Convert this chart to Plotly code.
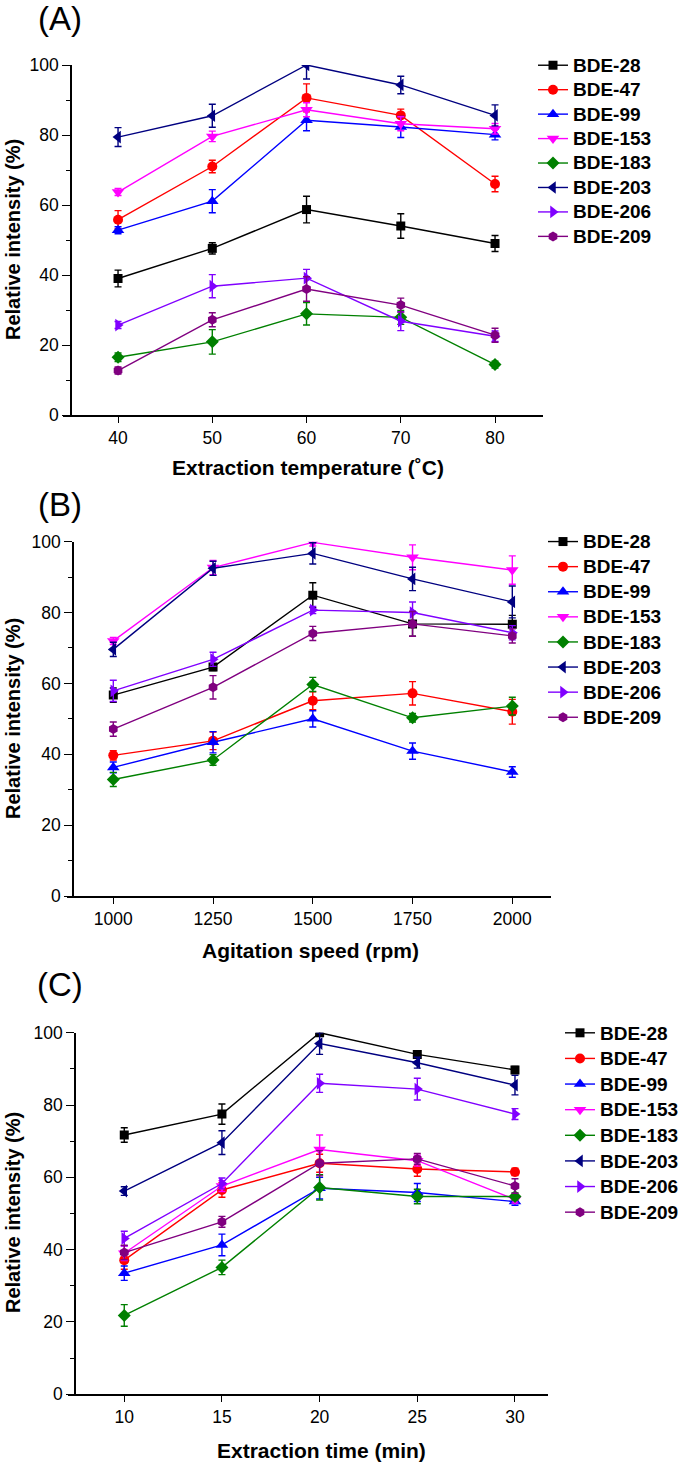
import plotly.graph_objects as go

W, H = 685, 1462

congeners = ["BDE-28", "BDE-47", "BDE-99", "BDE-153", "BDE-183", "BDE-203", "BDE-206", "BDE-209"]
colors = ["#000000", "#FF0000", "#0000FF", "#FF00FF", "#008000", "#000080", "#8000FF", "#800080"]
symbols = ["square", "circle", "triangle-up", "triangle-down", "diamond",
           "triangle-left", "triangle-right", "hexagon"]
marker_sizes = [9, 10, 11, 11, 10, 11, 11, 10]

# Panel A: extraction temperature
temps = [40, 50, 60, 70, 80]
a_means = [
    [39.0, 47.6, 58.7, 54.0, 49.0],
    [55.8, 71.0, 90.6, 85.6, 66.0],
    [52.8, 61.1, 84.2, 82.3, 80.1],
    [63.7, 79.6, 87.2, 83.2, 81.8],
    [16.5, 20.9, 28.9, 27.9, 14.4],
    [79.4, 85.5, 100.0, 94.3, 85.6],
    [25.7, 36.8, 39.1, 26.8, 22.5],
    [12.7, 27.2, 36.0, 31.4, 22.8],
]
a_errs = [
    [2.4, 1.6, 3.8, 3.5, 2.3],
    [2.6, 1.8, 4.0, 1.8, 2.2],
    [1.0, 3.3, 3.0, 3.0, 1.5],
    [1.0, 1.5, 2.0, 2.0, 1.5],
    [1.2, 3.5, 3.2, 2.0, 1.0],
    [2.7, 3.3, 4.0, 2.5, 3.0],
    [1.0, 3.3, 2.5, 2.7, 1.5],
    [1.0, 2.0, 3.5, 2.0, 2.0],
]

# Panel B: agitation speed
speeds = [1000, 1250, 1500, 1750, 2000]
b_means = [
    [56.7, 64.6, 84.9, 76.8, 76.7],
    [39.7, 43.8, 55.1, 57.2, 52.0],
    [36.3, 43.4, 50.0, 40.9, 35.0],
    [72.0, 92.7, 99.8, 95.6, 92.0],
    [32.9, 38.4, 59.7, 50.3, 53.6],
    [69.6, 92.5, 96.7, 89.5, 83.0],
    [57.9, 66.8, 80.7, 80.0, 74.3],
    [47.1, 58.9, 74.1, 76.8, 73.4],
]
b_errs = [
    [2.0, 1.0, 3.5, 3.5, 2.5],
    [1.3, 2.5, 2.5, 3.3, 3.5],
    [1.5, 3.0, 2.3, 2.3, 1.5],
    [1.0, 2.0, 1.0, 3.5, 4.0],
    [2.0, 1.5, 2.0, 1.2, 2.5],
    [2.0, 2.0, 3.0, 3.3, 4.5],
    [3.0, 2.0, 1.0, 3.0, 2.0],
    [2.0, 3.3, 2.0, 3.5, 2.0],
]

# Panel C: extraction time
times = [10, 15, 20, 25, 30]
c_means = [
    [71.7, 77.5, 100.0, 94.0, 89.7],
    [37.1, 56.5, 63.9, 62.3, 61.5],
    [33.5, 41.3, 57.0, 55.8, 53.3],
    [39.0, 57.6, 67.7, 64.6, 53.9],
    [21.8, 35.1, 57.2, 54.7, 54.7],
    [56.2, 69.6, 97.0, 91.7, 85.5],
    [43.1, 58.3, 86.0, 84.4, 77.5],
    [39.2, 47.7, 63.9, 65.1, 57.6],
]
c_errs = [
    [2.0, 2.8, 1.0, 1.0, 1.0],
    [2.5, 2.0, 2.5, 2.0, 1.0],
    [2.0, 3.0, 3.0, 2.5, 1.0],
    [2.0, 1.5, 4.0, 1.5, 1.0],
    [3.0, 2.0, 3.5, 2.0, 1.0],
    [1.2, 3.3, 3.0, 1.5, 2.7],
    [2.0, 1.5, 2.5, 3.0, 1.5],
    [2.0, 1.5, 3.5, 1.5, 2.0],
]

y_ticks = [0, 20, 40, 60, 80, 100]

FONT = "Liberation Sans, Arial, sans-serif"

def px_x(p):
    return p / W

def px_y(p):
    return 1 - p / H

# layout geometry (pixels)
panels = [
    dict(x=temps, means=a_means, errs=a_errs, xrange=[34.16, 85.09], xdom=(63, 543), ydom=(65, 415),
         yaxpos=71, xtitle="Extraction temperature (˚C)", xtitle_pos=(308, 468), ytitle_pos=(13, 240),
         label="(A)", label_pos=(60, 19), legend_pos=(533, 48), legend_size=16.5),
    dict(x=speeds, means=b_means, errs=b_errs, xrange=[884, 2097], xdom=(67, 551), ydom=(541.7, 896),
         yaxpos=73, xtitle="Agitation speed (rpm)", xtitle_pos=(310, 950), ytitle_pos=(13, 719),
         label="(B)", label_pos=(60, 504), legend_pos=(543, 524), legend_size=17),
    dict(x=times, means=c_means, errs=c_errs, xrange=[7.12, 31.69], xdom=(68, 548), ydom=(1032.7, 1394.3),
         yaxpos=75, xtitle="Extraction time (min)", xtitle_pos=(321, 1450), ytitle_pos=(13, 1213),
         label="(C)", label_pos=(60, 985), legend_pos=(560, 1015), legend_size=17.4),
]

fig = go.Figure()
annotations = []
layout_axes = {}

for pi, p in enumerate(panels):
    k = "" if pi == 0 else str(pi + 1)
    lg = "legend" if pi == 0 else f"legend{pi + 1}"
    for i, name in enumerate(congeners):
        fig.add_trace(go.Scatter(
            x=p["x"], y=p["means"][i], name=f'<span style="font-size:19px">{name}</span>',
            mode="lines+markers",
            xaxis="x" + k, yaxis="y" + k, legend=lg,
            line=dict(color=colors[i], width=1.4),
            marker=dict(symbol=symbols[i], size=marker_sizes[i], color=colors[i]),
            error_y=dict(type="data", array=p["errs"][i], visible=True,
                         color=colors[i], thickness=1.4, width=3.5),
        ))
    layout_axes["xaxis" + k] = dict(
        domain=[px_x(p["xdom"][0]), px_x(p["xdom"][1])], range=p["xrange"],
        anchor="y" + k, tickvals=p["x"], ticks="outside", ticklen=6, tickwidth=1.4,
        tickcolor="black", showline=True, linecolor="black", linewidth=1.5,
        showgrid=False, zeroline=False, automargin=False,
        tickfont=dict(family=FONT, size=17.5, color="black"),
    )
    layout_axes["yaxis" + k] = dict(
        domain=[px_y(p["ydom"][1]), px_y(p["ydom"][0])], range=[0, 100],
        anchor="free", position=px_x(p["yaxpos"]),
        tickvals=y_ticks, ticks="outside", ticklen=8, tickwidth=1.4, tickcolor="black",
        minor=dict(dtick=10, tick0=0, ticks="outside", ticklen=4, tickwidth=1.4, tickcolor="black", showgrid=False),
        showline=True, linecolor="black", linewidth=1.5, showgrid=False, zeroline=False, automargin=False,
        tickfont=dict(family=FONT, size=17.5, color="black"),
    )
    layout_axes[lg] = dict(
        x=px_x(p["legend_pos"][0]), y=px_y(p["legend_pos"][1]), xanchor="left", yanchor="top",
        font=dict(family=FONT, size=p["legend_size"], color="black", weight="bold"),
        bgcolor="rgba(0,0,0,0)", borderwidth=0, tracegroupgap=0,
    )
    annotations.append(dict(
        text=p["xtitle"], x=px_x(p["xtitle_pos"][0]), y=px_y(p["xtitle_pos"][1]),
        xref="paper", yref="paper", xanchor="center", yanchor="middle", showarrow=False,
        font=dict(family=FONT, size=21, color="black", weight="bold"),
    ))
    annotations.append(dict(
        text="Relative intensity (%)", x=px_x(p["ytitle_pos"][0]), y=px_y(p["ytitle_pos"][1]),
        xref="paper", yref="paper", xanchor="center", yanchor="middle", showarrow=False,
        textangle=-90, font=dict(family=FONT, size=20, color="black", weight="bold"),
    ))
    annotations.append(dict(
        text=p["label"], x=px_x(p["label_pos"][0]), y=px_y(p["label_pos"][1]),
        xref="paper", yref="paper", xanchor="center", yanchor="middle", showarrow=False,
        font=dict(family=FONT, size=33, color="black"),
    ))

fig.update_layout(
    width=W, height=H, margin=dict(l=0, r=0, t=0, b=0, autoexpand=False),
    paper_bgcolor="white", plot_bgcolor="white",
    showlegend=True, annotations=annotations, **layout_axes,
)

fig.write_html(
    "out.html",
    config={"displayModeBar": False},
    post_script=(
        "document.body.style.margin='0';document.body.style.overflow='hidden';"
        "var d=document.querySelector('.plotly-graph-div');"
        "d.style.position='absolute';d.style.top='0px';d.style.left='0px';"
    ),
)
